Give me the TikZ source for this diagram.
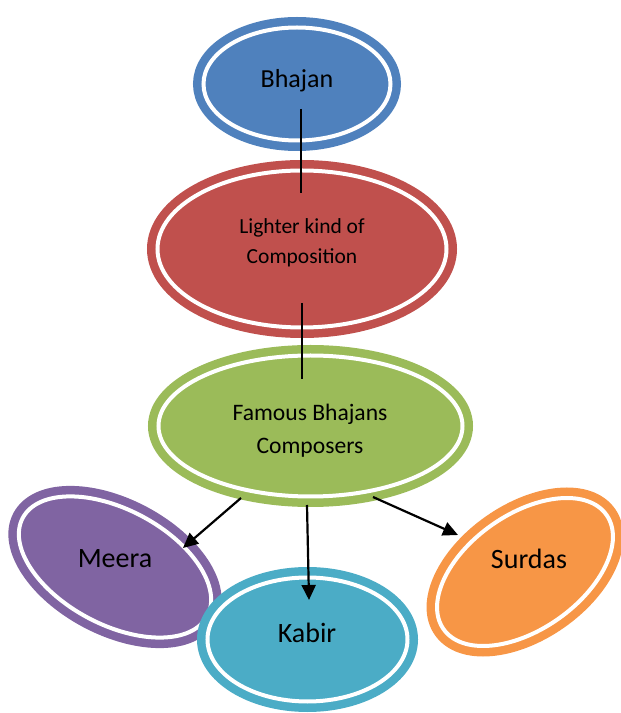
\documentclass[tikz,border=0pt]{standalone}
\usepackage{fontspec}
\setmainfont{Carlito}
\usetikzlibrary{shapes.geometric,arrows.meta}
\definecolor{cblue}{HTML}{4F81BD}
\definecolor{cred}{HTML}{C0504D}
\definecolor{cgreen}{HTML}{9BBB59}
\definecolor{cpurple}{HTML}{8064A2}
\definecolor{caqua}{HTML}{4BACC6}
\definecolor{corange}{HTML}{F79646}
\tikzset{
  blob/.style={ellipse, inner sep=0pt, fill=#1, draw=#1, line width=8.5pt,
    double=white, double distance=4pt},
  txt/.style={inner sep=0pt, text=black, align=center},
  link/.style={line width=2.2pt, draw=black},
  arr/.style={line width=2.2pt, draw=black, -{Triangle[length=15pt,width=14pt]}}
}
\begin{document}
\begin{tikzpicture}[x=1pt,y=1pt]
\useasboundingbox (0,0) rectangle (621,713);
% ellipses
\node[blob=cblue, minimum width=187pt, minimum height=113pt] (bhajanE) at (297,629) {};
\node[blob=cred, minimum width=289pt, minimum height=157pt] (lighterE) at (302,464) {};
\node[blob=cgreen, minimum width=304pt, minimum height=141pt] (famousE) at (310.5,287) {};
\node[blob=cpurple, minimum width=209pt, minimum height=115pt, rotate=-28] (meeraE) at (115,146) {};
\node[blob=caqua, minimum width=200pt, minimum height=124pt] (kabirE) at (307.5,73.5) {};
\node[blob=corange, minimum width=199pt, minimum height=115pt, rotate=35] (surdasE) at (525,141) {};
% texts
\node[txt, anchor=base, font=\fontsize{26}{31}\selectfont] (bhajan) at (297,625) {Bhajan};
\node[txt, font=\fontsize{21.5}{30}\selectfont] (lighter) at (302,470.5) {Lighter kind of\\Composition};
\node[txt, font=\fontsize{23.6}{33}\selectfont] (famous) at (310,282.4) {Famous Bhajans\\Composers};
\node[txt, anchor=base, font=\fontsize{28}{34}\selectfont] (meera) at (115,145) {Meera};
\node[txt, anchor=base, font=\fontsize{28}{34}\selectfont] (kabir) at (307,70) {Kabir};
\node[txt, anchor=base, font=\fontsize{28}{34}\selectfont] (surdas) at (529,144) {Surdas};
% connector end points
\coordinate (c1) at (301,604);
\coordinate (c2) at (301,520);
\coordinate (c3) at (302,410);
\coordinate (c4) at (302,334);
\coordinate (a1) at (241,215);
\coordinate (a2) at (183,165);
\coordinate (a3) at (307,208);
\coordinate (a4) at (309,113);
\coordinate (a5) at (373,216);
\coordinate (a6) at (458,178);
\draw[link] (c1) -- (c2);
\draw[link] (c3) -- (c4);
\draw[arr] (a1) -- (a2);
\draw[arr] (a3) -- (a4);
\draw[arr] (a5) -- (a6);
\end{tikzpicture}
\end{document}
